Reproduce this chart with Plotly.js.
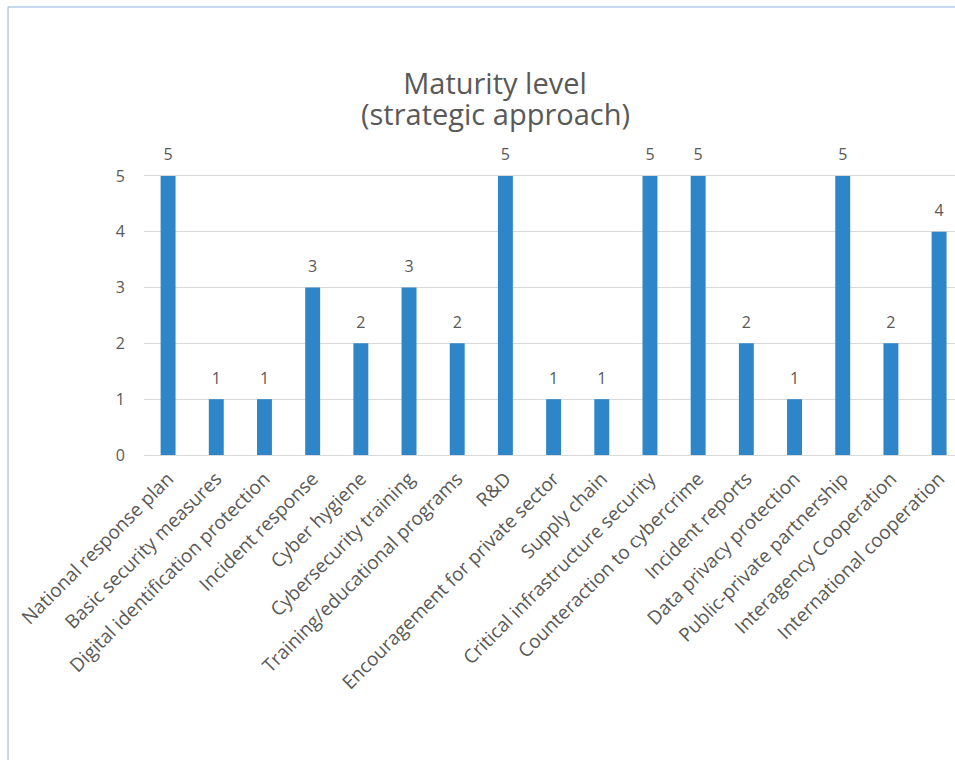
<!DOCTYPE html>
<html>
<head>
<meta charset="utf-8">
<script src="https://cdn.plot.ly/plotly-3.0.1.min.js"></script>
<style>html,body{margin:0;padding:0;background:#fff;}#chart{width:955px;height:760px;}</style>
</head>
<body>
<div id="chart"></div>
<script>
const categories = [
  "National response plan",
  "Basic security measures",
  "Digital identification protection",
  "Incident response",
  "Cyber hygiene",
  "Cybersecurity training",
  "Training/educational programs",
  "R&D",
  "Encouragement for private sector",
  "Supply chain",
  "Critical infrastructure security",
  "Counteraction to cybercrime",
  "Incident reports",
  "Data privacy protection",
  "Public-private partnership",
  "Interagency Cooperation",
  "International cooperation"
];
const maturity = [5, 1, 1, 3, 2, 3, 2, 5, 1, 1, 5, 5, 2, 1, 5, 2, 4];
const yTicks = [0, 1, 2, 3, 4, 5];
const titleLine1 = "Maturity level";
const titleLine2 = "(strategic approach)";

const textColor = "#595959";
const font = "'Open Sans', 'Noto Sans', sans-serif";

const bars = {
  type: "bar",
  x: categories,
  y: maturity,
  marker: {color: "#2E86C8", line: {width: 0}},
  hoverinfo: "x+y"
};

const labels = {
  type: "scatter",
  mode: "markers+text",
  x: categories,
  y: maturity,
  text: maturity.map(String),
  textposition: "top center",
  textfont: {family: font, size: 16, color: textColor},
  marker: {size: 17, color: "rgba(0,0,0,0)"},
  cliponaxis: false,
  hoverinfo: "skip"
};

const layout = {
  width: 955,
  height: 760,
  paper_bgcolor: "#ffffff",
  plot_bgcolor: "#ffffff",
  margin: {l: 144, r: 0, t: 148, b: 305},
  bargap: 0.69,
  showlegend: false,
  font: {family: font, color: textColor},
  title: {
    text: titleLine1,
    font: {family: font, size: 29, color: textColor},
    x: 495 / 955,
    xref: "container",
    xanchor: "center",
    y: 1 - 84 / 760,
    yref: "container",
    yanchor: "middle"
  },
  annotations: [
    {
      text: titleLine2,
      xref: "paper", yref: "paper",
      x: (495 - 144) / 811,
      y: 1 + (148 - 114) / 307,
      xanchor: "center", yanchor: "middle",
      showarrow: false,
      font: {family: font, size: 29, color: textColor}
    }
  ],
  xaxis: {
    type: "category",
    range: [-0.5, 16.33],
    tickangle: -45,
    tickfont: {family: font, size: 19, color: textColor},
    showgrid: false,
    showline: false,
    zeroline: false,
    ticks: "",
    ticklabelstandoff: 8,
    automargin: false
  },
  yaxis: {
    range: [0, 5.5],
    tickvals: yTicks,
    ticktext: yTicks.map(String),
    tickfont: {family: font, size: 16, color: textColor},
    showgrid: true,
    gridcolor: "#d9d9d9",
    gridwidth: 1,
    zeroline: true,
    zerolinecolor: "#d9d9d9",
    zerolinewidth: 1,
    showline: false,
    ticks: "",
    ticklabelstandoff: 18,
    automargin: false
  },
  shapes: [
    {type: "line", xref: "paper", yref: "paper", x0: -136/811, x1: -136/811, y0: 0 - 305/307, y1: 1 + 141/307, line: {color: "#8fb2dc", width: 1}},
    {type: "line", xref: "paper", yref: "paper", x0: -136/811, x1: 1, y0: 1 + 141/307, y1: 1 + 141/307, line: {color: "#8fb2dc", width: 1}}
  ]
};

Plotly.newPlot("chart", [bars, labels], layout, {displayModeBar: false, staticPlot: true});
</script>
</body>
</html>
